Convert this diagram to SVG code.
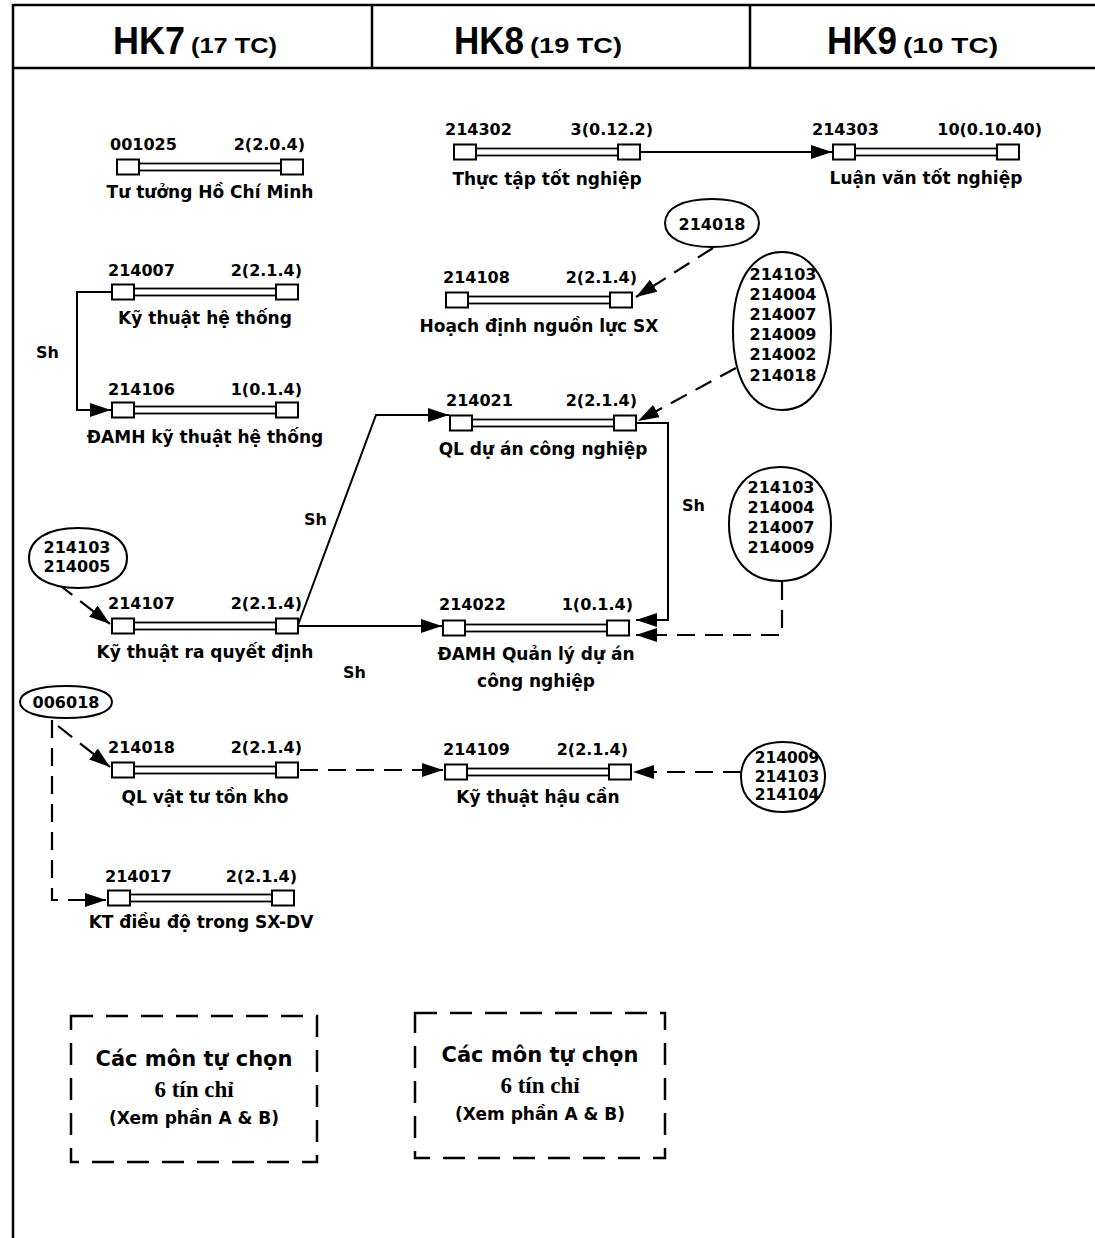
<svg xmlns="http://www.w3.org/2000/svg" xmlns:xlink="http://www.w3.org/1999/xlink" width="1095" height="1238" viewBox="0 0 1095 1238">
<style>
text { font-family: "DejaVu Sans", "Liberation Sans", sans-serif; font-weight: bold; fill: #000; }
.code { font-size: 16px; }
.cr { font-size: 16px; text-anchor: end; }
.name { font-size: 17px; text-anchor: middle; }
.ell { font-size: 16px; text-anchor: middle; }
.sh { font-size: 16px; }
.hk { font-family: "Liberation Sans", Arial, sans-serif; font-size: 38px; }
.tc { font-family: "Liberation Sans", Arial, sans-serif; font-size: 22px; }
.frame { stroke: #000; stroke-width: 2.5; fill: none; }
.solid { stroke: #000; stroke-width: 2; fill: none; marker-end: url(#ah); }
.dash { stroke: #000; stroke-width: 2.2; fill: none; stroke-dasharray: 18 10; marker-end: url(#ah); }
.oval { fill: #fff; stroke: #000; stroke-width: 2; }
.box { fill: none; stroke: #000; stroke-width: 2.5; stroke-dasharray: 22 13; }
.opt { font-size: 21px; text-anchor: middle; }
.tin { font-family: "Liberation Serif", "Times New Roman", serif; font-size: 23px; text-anchor: middle; }
.xem { font-size: 17px; text-anchor: middle; }
</style>
<defs>
<marker id="ah" viewBox="0 0 21 14" refX="21" refY="7" markerWidth="21" markerHeight="14" markerUnits="userSpaceOnUse" orient="auto">
<path d="M0,0 L21,7 L0,14 z" fill="#000"/>
</marker>
<g id="course">
<rect x="22" y="-3.5" width="142" height="7" fill="#fff" stroke="#000" stroke-width="1.8"/>
<rect x="0" y="-7.5" width="22" height="15" fill="#fff" stroke="#000" stroke-width="2"/>
<rect x="164" y="-7.5" width="22" height="15" fill="#fff" stroke="#000" stroke-width="2"/>
</g>
</defs>
<rect width="1095" height="1238" fill="#fff"/>

<g id="frame">
<line class="frame" x1="13" y1="5" x2="1095" y2="5"/>
<line class="frame" x1="13" y1="68" x2="1095" y2="68"/>
<line class="frame" x1="13" y1="4" x2="13" y2="1238"/>
<line class="frame" x1="372" y1="5" x2="372" y2="68" stroke-width="1.8"/>
<line class="frame" x1="750" y1="5" x2="750" y2="68" stroke-width="1.8"/>
<text class="hk" x="113" y="54" textLength="72" lengthAdjust="spacingAndGlyphs">HK7</text>
<text class="tc" x="191" y="53" textLength="86" lengthAdjust="spacingAndGlyphs">(17 TC)</text>
<text class="hk" x="454" y="54" textLength="70" lengthAdjust="spacingAndGlyphs">HK8</text>
<text class="tc" x="530" y="53" textLength="92" lengthAdjust="spacingAndGlyphs">(19 TC)</text>
<text class="hk" x="827" y="54" textLength="70" lengthAdjust="spacingAndGlyphs">HK9</text>
<text class="tc" x="903" y="53" textLength="95" lengthAdjust="spacingAndGlyphs">(10 TC)</text>
</g>

<g id="connectors">
<path class="solid" d="M112,292 H77 V410 H111"/>
<path class="solid" d="M640,152 H832"/>
<path class="solid" d="M298,625 L376,415 H449"/>
<path class="solid" d="M298,626 H442"/>
<path class="solid" d="M636,423 H668 V620 H636"/>
<path class="dash" d="M713,248 L636,297"/>
<path class="dash" d="M736,368 L638,421"/>
<path class="dash" d="M782,582 V635 H636"/>
<path class="dash" d="M58,584 L110,624"/>
<path class="dash" d="M58,726 L110,767"/>
<path class="dash" d="M52,720 V900 H106"/>
<path class="dash" d="M300,770 H443"/>
<path class="dash" d="M741,772 H633"/>
<text class="sh" x="36" y="358">Sh</text>
<text class="sh" x="304" y="525">Sh</text>
<text class="sh" x="343" y="678">Sh</text>
<text class="sh" x="682" y="511">Sh</text>
</g>

<g id="n001025">
<use xlink:href="#course" x="117" y="167"/>
<text class="code" x="110" y="150">001025</text>
<text class="cr" x="305" y="150">2(2.0.4)</text>
<text class="name" x="210" y="198">Tư tưởng Hồ Chí Minh</text>
</g>
<g id="n214007">
<use xlink:href="#course" x="112" y="292"/>
<text class="code" x="108" y="276">214007</text>
<text class="cr" x="302" y="276">2(2.1.4)</text>
<text class="name" x="205" y="324">Kỹ thuật hệ thống</text>
</g>
<g id="n214106">
<use xlink:href="#course" x="112" y="410"/>
<text class="code" x="108" y="395">214106</text>
<text class="cr" x="302" y="395">1(0.1.4)</text>
<text class="name" x="205" y="443">ĐAMH kỹ thuật hệ thống</text>
</g>
<g id="n214107">
<use xlink:href="#course" x="112" y="626"/>
<text class="code" x="108" y="609">214107</text>
<text class="cr" x="302" y="609">2(2.1.4)</text>
<text class="name" x="205" y="658">Kỹ thuật ra quyết định</text>
</g>
<g id="n214018">
<use xlink:href="#course" x="112" y="770"/>
<text class="code" x="108" y="753">214018</text>
<text class="cr" x="302" y="753">2(2.1.4)</text>
<text class="name" x="205" y="803">QL vật tư tồn kho</text>
</g>
<g id="n214017">
<use xlink:href="#course" x="108" y="898"/>
<text class="code" x="105" y="882">214017</text>
<text class="cr" x="297" y="882">2(2.1.4)</text>
<text class="name" x="201" y="928">KT điều độ trong SX-DV</text>
</g>
<g id="n214302">
<use xlink:href="#course" x="454" y="152"/>
<text class="code" x="445" y="135">214302</text>
<text class="cr" x="653" y="135">3(0.12.2)</text>
<text class="name" x="547" y="185">Thực tập tốt nghiệp</text>
</g>
<g id="n214303">
<use xlink:href="#course" x="833" y="152"/>
<text class="code" x="812" y="135">214303</text>
<text class="cr" x="1042" y="135">10(0.10.40)</text>
<text class="name" x="926" y="184">Luận văn tốt nghiệp</text>
</g>
<g id="n214108">
<use xlink:href="#course" x="446" y="300"/>
<text class="code" x="443" y="283">214108</text>
<text class="cr" x="637" y="283">2(2.1.4)</text>
<text class="name" x="539" y="332">Hoạch định nguồn lực SX</text>
</g>
<g id="n214021">
<use xlink:href="#course" x="450" y="423"/>
<text class="code" x="446" y="406">214021</text>
<text class="cr" x="637" y="406">2(2.1.4)</text>
<text class="name" x="543" y="455">QL dự án công nghiệp</text>
</g>
<g id="n214022">
<use xlink:href="#course" x="443" y="628"/>
<text class="code" x="439" y="610">214022</text>
<text class="cr" x="633" y="610">1(0.1.4)</text>
<text class="name" x="536" y="660">ĐAMH Quản lý dự án</text>
<text class="name" x="536" y="687">công nghiệp</text>
</g>
<g id="n214109">
<use xlink:href="#course" x="445" y="772"/>
<text class="code" x="443" y="755">214109</text>
<text class="cr" x="628" y="755">2(2.1.4)</text>
<text class="name" x="538" y="803">Kỹ thuật hậu cần</text>
</g>

<g id="p214018">
<path class="oval" d="M665,223 C665,208.1 682.9,199 712,199 C741.1,199 759,208.1 759,223 C759,237.9 741.1,247 712,247 C682.9,247 665,237.9 665,223 Z"/>
<text class="ell" x="712" y="230">214018</text>
</g>
<g id="p-qlda">
<path class="oval" d="M733,331 C733,282 751.6,252 782,252 C812.4,252 831,282 831,331 C831,380 812.4,410 782,410 C751.6,410 733,380 733,331 Z"/>
<text class="ell" x="783" y="280">214103</text>
<text class="ell" x="783" y="300">214004</text>
<text class="ell" x="783" y="320">214007</text>
<text class="ell" x="783" y="340">214009</text>
<text class="ell" x="783" y="360">214002</text>
<text class="ell" x="783" y="381">214018</text>
</g>
<g id="p-damh">
<path class="oval" d="M729,524 C729,488.7 748.4,467 780,467 C811.6,467 831,488.7 831,524 C831,559.3 811.6,581 780,581 C748.4,581 729,559.3 729,524 Z"/>
<text class="ell" x="781" y="493">214103</text>
<text class="ell" x="781" y="513">214004</text>
<text class="ell" x="781" y="533">214007</text>
<text class="ell" x="781" y="553">214009</text>
</g>
<g id="p-haucan">
<path class="oval" d="M741,777 C741,755.3 757,742 783,742 C809,742 825,755.3 825,777 C825,798.7 809,812 783,812 C757,812 741,798.7 741,777 Z"/>
<text class="ell" x="787" y="763" style="font-size:15.5px">214009</text>
<text class="ell" x="787" y="782" style="font-size:15.5px">214103</text>
<text class="ell" x="787" y="800" style="font-size:15.5px">214104</text>
</g>
<g id="p-rqd">
<path class="oval" d="M29,558 C29,539.4 47.6,528 78,528 C108.4,528 127,539.4 127,558 C127,576.6 108.4,588 78,588 C47.6,588 29,576.6 29,558 Z"/>
<text class="ell" x="77" y="553">214103</text>
<text class="ell" x="77" y="572">214005</text>
</g>
<g id="p006018">
<path class="oval" d="M20,702 C20,692.1 37.5,686 66,686 C94.5,686 112,692.1 112,702 C112,711.9 94.5,718 66,718 C37.5,718 20,711.9 20,702 Z"/>
<text class="ell" x="66" y="708">006018</text>
</g>

<g id="elective7">
<rect class="box" x="71" y="1016" width="246" height="146"/>
<text class="opt" x="194" y="1066">Các môn tự chọn</text>
<text class="tin" x="194" y="1097">6 tín chỉ</text>
<text class="xem" x="194" y="1124">(Xem phần A &amp; B)</text>
</g>
<g id="elective8">
<rect class="box" x="415" y="1013" width="250" height="145"/>
<text class="opt" x="540" y="1062">Các môn tự chọn</text>
<text class="tin" x="540" y="1093">6 tín chỉ</text>
<text class="xem" x="540" y="1120">(Xem phần A &amp; B)</text>
</g>
</svg>
